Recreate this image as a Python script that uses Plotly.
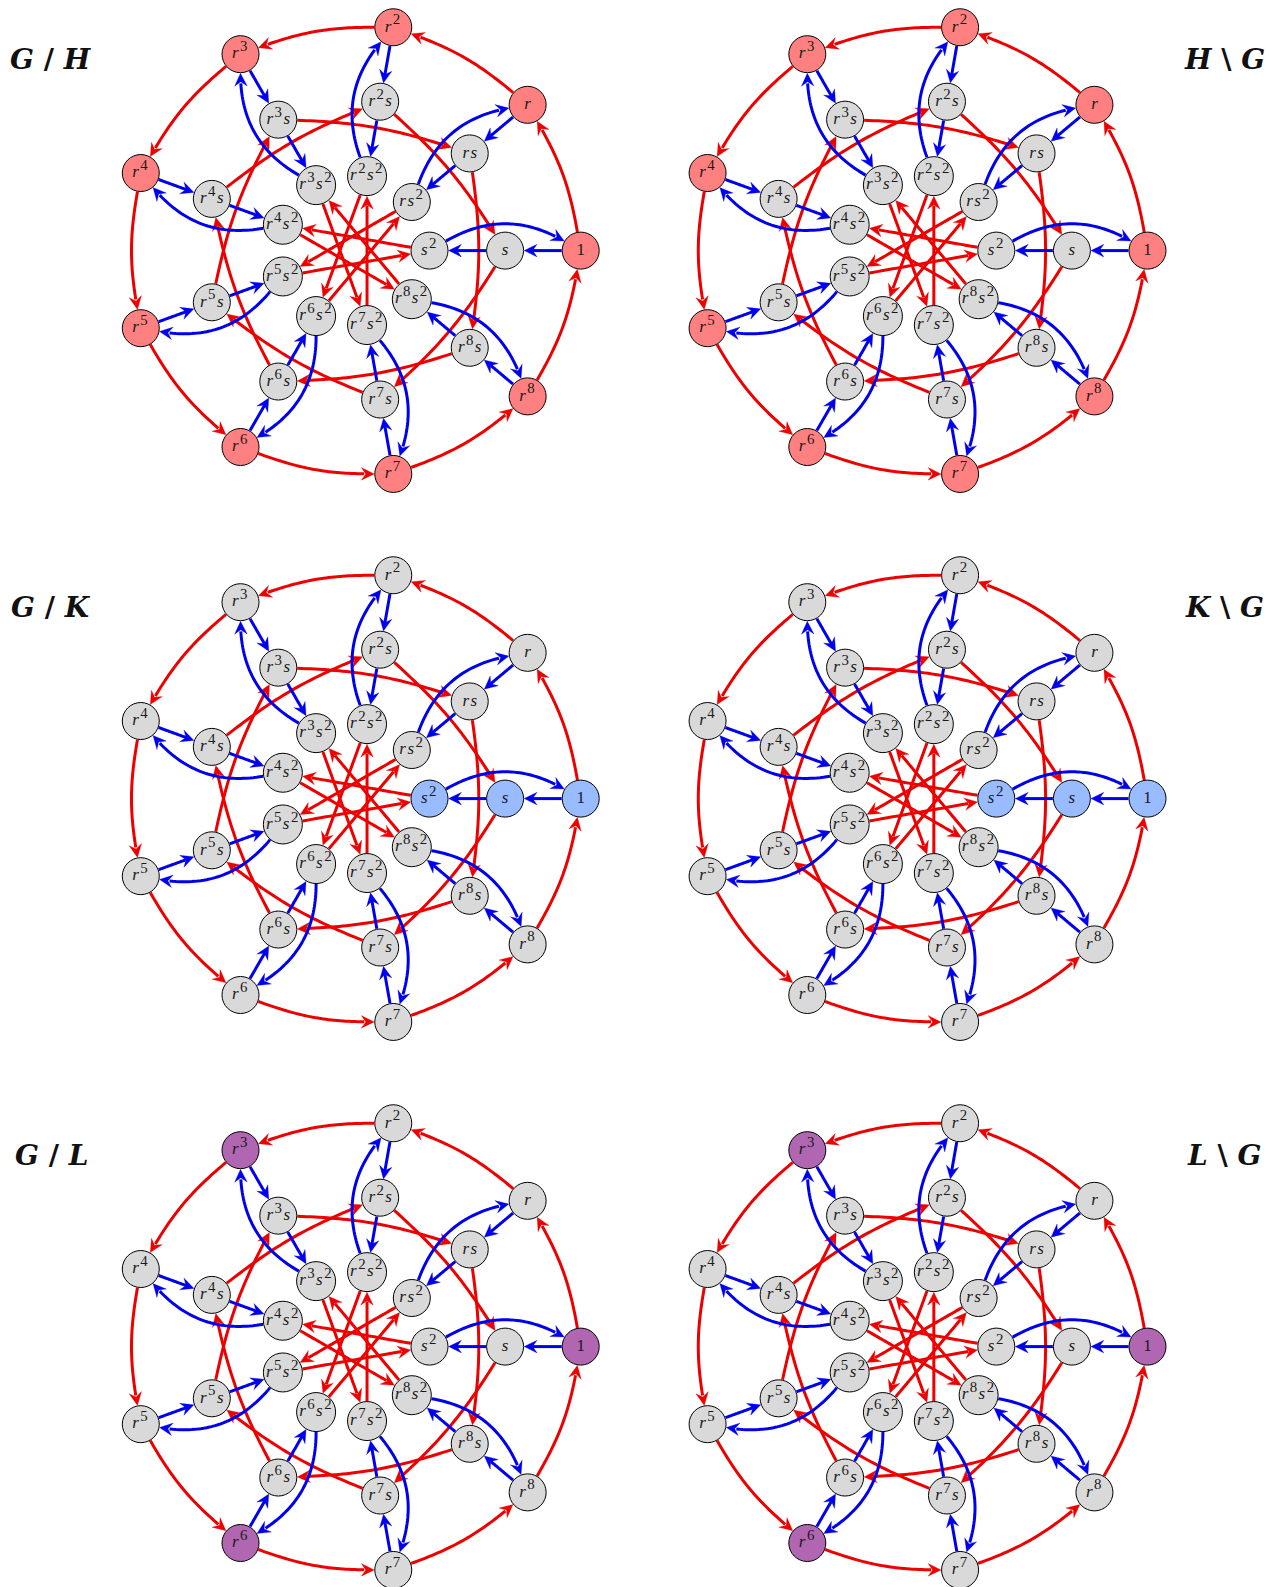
import math
import plotly.graph_objects as go

# ---- data -------------------------------------------------------------
POWERS = [0, 1, 2, 3, 4, 5, 6, 7, 8]
ANGLES_DEG = [0, 40, 80, 120, 160, 200, 240, 280, 320]
HS = "&#8202;"


def sup(d):
    return f'{HS}<sup><span style="font-size:125%">{d}</span></sup>{HS}'


R_ = "<i>r</i>"
S_ = "<i>s</i>"
OUTER_LABELS = ["1", R_, R_ + sup(2), R_ + sup(3), R_ + sup(4), R_ + sup(5), R_ + sup(6), R_ + sup(7), R_ + sup(8)]
MIDDLE_LABELS = [S_, R_ + HS + S_, R_ + sup(2) + S_, R_ + sup(3) + S_, R_ + sup(4) + S_,
                 R_ + sup(5) + S_, R_ + sup(6) + S_, R_ + sup(7) + S_, R_ + sup(8) + S_]
INNER_LABELS = [S_ + sup(2), R_ + HS + S_ + sup(2), R_ + sup(2) + S_ + sup(2), R_ + sup(3) + S_ + sup(2),
                R_ + sup(4) + S_ + sup(2), R_ + sup(5) + S_ + sup(2), R_ + sup(6) + S_ + sup(2),
                R_ + sup(7) + S_ + sup(2), R_ + sup(8) + S_ + sup(2)]
# right-multiplication by r: target power for each ring
OUTER_RED_TARGET = [1, 2, 3, 4, 5, 6, 7, 8, 0]
MIDDLE_RED_TARGET = [7, 8, 0, 1, 2, 3, 4, 5, 6]
INNER_RED_TARGET = [4, 5, 6, 7, 8, 0, 1, 2, 3]

PANEL_TITLES_LEFT = ["<b><i>G</i> / <i>H</i></b>", "<b><i>G</i> / <i>K</i></b>", "<b><i>G</i> / <i>L</i></b>"]
PANEL_TITLES_RIGHT = ["<b><i>H</i> \\ <i>G</i></b>", "<b><i>K</i> \\ <i>G</i></b>", "<b><i>L</i> \\ <i>G</i></b>"]
# highlighted cosets, per row: (ring, power)
HIGHLIGHT_H = [("o", 0), ("o", 1), ("o", 2), ("o", 3), ("o", 4), ("o", 5), ("o", 6), ("o", 7), ("o", 8)]
HIGHLIGHT_K = [("o", 0), ("m", 0), ("i", 0)]
HIGHLIGHT_L = [("o", 0), ("o", 3), ("o", 6)]
ROW_HIGHLIGHTS = [HIGHLIGHT_H, HIGHLIGHT_K, HIGHLIGHT_L]

# ---- styles / layout --------------------------------------------------
W, H = 1269, 1587
COL_X = [353.9, 920.7]
ROW_Y = [250.6, 798.6, 1346.6]
RING_R = {"o": 226.8, "m": 151.2, "i": 75.6}
ROW_FILL = ["#FF8080", "#99BBFF", "#B066B0"]
GRAY = "#D9D9D9"
RED, BLUE = "#EE0000", "#0000EE"
LINE_W = 3.0
LABELS = {"o": OUTER_LABELS, "m": MIDDLE_LABELS, "i": INNER_LABELS}
BEND_OUTER, BEND_MIDDLE, BEND_BLUE = -10, 8, 30
K = 0.3915


def node_r(ring, p):
    return 20.0 if (ring == "i" and p >= 2) else 19.0


def pos(ring, p):
    a = math.radians(ANGLES_DEG[p])
    return RING_R[ring] * math.cos(a), RING_R[ring] * math.sin(a)


def u(a):
    return math.cos(a), math.sin(a)


def edge_curve(a, b, bend):
    """TikZ-like bent edge between two nodes, in y-up coordinates."""
    (ax, ay), (bx, by) = pos(*a), pos(*b)
    phi = math.atan2(by - ay, bx - ax)
    t = math.radians(bend)
    uo, ui = u(phi + t), u(phi + math.pi - t)
    ra, rb = node_r(*a), node_r(*b)
    p0 = (ax + ra * uo[0], ay + ra * uo[1])
    p3 = (bx + rb * ui[0], by + rb * ui[1])
    d = math.hypot(p3[0] - p0[0], p3[1] - p0[1])
    c1 = (p0[0] + K * d * uo[0], p0[1] + K * d * uo[1])
    c2 = (p3[0] + K * d * ui[0], p3[1] + K * d * ui[1])
    pts = []
    for i in range(41):
        s = i / 40
        m = 1 - s
        pts.append((m**3 * p0[0] + 3 * m * m * s * c1[0] + 3 * m * s * s * c2[0] + s**3 * p3[0],
                    m**3 * p0[1] + 3 * m * m * s * c1[1] + 3 * m * s * s * c2[1] + s**3 * p3[1]))
    return pts


def add_edge(store, cx, cy, a, b, bend):
    pts = edge_curve(a, b, bend)
    tip = pts[-1]
    # walk back from the tip to where the barbs' notch sits
    keep = [p for p in pts if math.hypot(p[0] - tip[0], p[1] - tip[1]) >= 7.5]
    back = keep[-1]
    dx, dy = tip[0] - back[0], tip[1] - back[1]
    n = math.hypot(dx, dy)
    dx, dy = dx / n, dy / n
    for p in keep:
        store["lx"].append(cx + p[0])
        store["ly"].append(cy - p[1])
    store["lx"].append(None)
    store["ly"].append(None)
    L, HW, NOTCH = 13.0, 6.3, 8.5
    poly = [(0, 0), (-L, HW), (-NOTCH, 0), (-L, -HW), (0, 0)]
    for ox, oy in poly:
        px = tip[0] + ox * dx - oy * dy
        py = tip[1] + ox * dy + oy * dx
        store["ax"].append(cx + px)
        store["ay"].append(cy - py)
    store["ax"].append(None)
    store["ay"].append(None)


red = dict(lx=[], ly=[], ax=[], ay=[])
blue = dict(lx=[], ly=[], ax=[], ay=[])
nx, ny, ncol, nsize, ntext = [], [], [], [], []

for row, cy in enumerate(ROW_Y):
    for cx in COL_X:
        for p in POWERS:
            add_edge(red, cx, cy, ("o", p), ("o", OUTER_RED_TARGET[p]), BEND_OUTER)
            add_edge(red, cx, cy, ("m", p), ("m", MIDDLE_RED_TARGET[p]), BEND_MIDDLE)
            add_edge(red, cx, cy, ("i", p), ("i", INNER_RED_TARGET[p]), 0)
            add_edge(blue, cx, cy, ("o", p), ("m", p), 0)
            add_edge(blue, cx, cy, ("m", p), ("i", p), 0)
            add_edge(blue, cx, cy, ("i", p), ("o", p), BEND_BLUE)
        for ring in ("o", "m", "i"):
            for p in POWERS:
                x, y = pos(ring, p)
                nx.append(cx + x)
                ny.append(cy - y)
                ncol.append(ROW_FILL[row] if (ring, p) in ROW_HIGHLIGHTS[row] else GRAY)
                nsize.append(2 * node_r(ring, p) - 1)
                ntext.append(LABELS[ring][p])

fig = go.Figure()
for store, col in ((red, RED), (blue, BLUE)):
    fig.add_trace(go.Scatter(x=store["lx"], y=store["ly"], mode="lines", hoverinfo="skip",
                             line=dict(color=col, width=LINE_W, simplify=False), showlegend=False))
    fig.add_trace(go.Scatter(x=store["ax"], y=store["ay"], mode="lines", fill="toself", fillcolor=col,
                             hoverinfo="skip", line=dict(color=col, width=0.3), showlegend=False))
fig.add_trace(go.Scatter(x=nx, y=ny, mode="markers+text", text=ntext, textposition="middle center",
                         textfont=dict(family="Liberation Serif", size=17, color="#1A1A1A"),
                         marker=dict(size=nsize, color=ncol, opacity=1, line=dict(color="#000000", width=1)),
                         hoverinfo="skip", showlegend=False))

for row, cy in enumerate(ROW_Y):
    title_y = cy - 191.5
    fig.add_annotation(x=51, y=title_y, text=PANEL_TITLES_LEFT[row], showarrow=False, xanchor="center",
                       yanchor="middle", font=dict(family="DejaVu Serif", size=28, color="#111111"))
    fig.add_annotation(x=1224, y=title_y, text=PANEL_TITLES_RIGHT[row], showarrow=False, xanchor="center",
                       yanchor="middle", font=dict(family="DejaVu Serif", size=28, color="#111111"))

fig.update_layout(width=W, height=H, margin=dict(l=0, r=0, t=0, b=0),
                  paper_bgcolor="white", plot_bgcolor="white", showlegend=False,
                  xaxis=dict(range=[0, W], visible=False, fixedrange=True),
                  yaxis=dict(range=[H, 0], visible=False, fixedrange=True))
fig.write_html("out.html", config=dict(displayModeBar=False),
               post_script="document.body.style.margin='0';document.body.style.overflow='hidden';")
